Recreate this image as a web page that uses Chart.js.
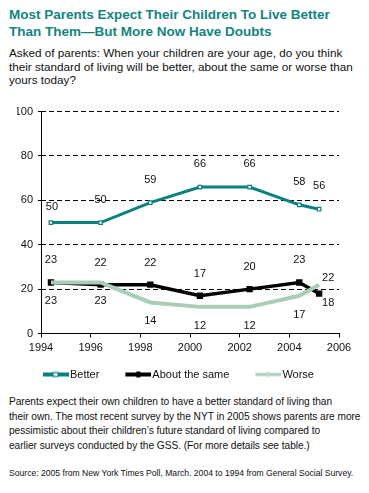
<!DOCTYPE html>
<html>
<head>
<meta charset="utf-8">
<script src="https://cdn.jsdelivr.net/npm/chart.js@4/dist/chart.umd.min.js"></script>
<style>
  html, body { margin: 0; padding: 0; background: #fff; }
  body { width: 369px; height: 493px; position: relative; overflow: hidden;
         font-family: "Liberation Sans", Arial, sans-serif; color: #111; }
  .title { position: absolute; left: 9px; top: 6px; font-weight: bold; font-size: 13.5px;
           line-height: 17px; color: #138481; white-space: nowrap; }
  .sub { position: absolute; left: 9px; top: 46px; font-size: 11.7px; line-height: 13.5px; white-space: nowrap; }
  .para { position: absolute; left: 9px; top: 395px; font-size: 10.2px; letter-spacing: -0.05px;
          line-height: 14.7px; white-space: nowrap; }
  .src { position: absolute; left: 9px; top: 467px; font-size: 8.6px; line-height: 12px; white-space: nowrap; }
  #wrap { position: absolute; left: 0; top: 100px; width: 369px; height: 290px; }
</style>
</head>
<body>
<div class="title">Most Parents Expect Their Children To Live Better<br>Than Them—But More Now Have Doubts</div>
<div class="sub">Asked of parents: When your children are your age, do you think<br>their standard of living will be better, about the same or worse than<br>yours today?</div>
<div id="wrap"><canvas id="chart"></canvas></div>
<div class="para">Parents expect their own children to have a better standard of living than<br>their own. The most recent survey by the NYT in 2005 shows parents are more<br>pessimistic about their children’s future standard of living compared to<br>earlier surveys conducted by the GSS. (For more details see table.)</div>
<div class="src">Source: 2005 from New York Times Poll, March. 2004 to 1994 from General Social Survey.</div>
<script>
/* ── Data (survey dates as fractional years: GSS mid-year, NYT March 2005) ── */
const surveyDates = [1994.4, 1996.4, 1998.4, 2000.4, 2002.4, 2004.4, 2005.2];
const better      = [50, 50, 59, 66, 66, 58, 56];
const aboutSame   = [23, 22, 22, 17, 20, 23, 18];
const worse       = [23, 23, 14, 12, 12, 17, 22];
const seriesNames = ['Better', 'About the same', 'Worse'];
const xTicks = [1994, 1996, 1998, 2000, 2002, 2004, 2006];
const yTicks = [0, 20, 40, 60, 80, 100];

const TEAL = '#0b8080';
const BLACK = '#000000';
const SAGE = '#a9cdb7';
const FONT = '"Liberation Sans", Arial, sans-serif';

function toPoints(values) {
  return values.map((v, i) => ({ x: surveyDates[i], y: v }));
}

/* small canvas used as legend marker: line with a marker in the middle */
function legendMarker(color, kind) {
  const c = document.createElement('canvas');
  c.width = 39; c.height = 10;
  const g = c.getContext('2d');
  const x0 = 13, x1 = 39, cy = 5;
  g.strokeStyle = color;
  g.lineWidth = kind === 'worse' ? 3 : 4;
  g.beginPath(); g.moveTo(x0, cy); g.lineTo(x1, cy); g.stroke();
  if (kind === 'better') {
    g.fillStyle = '#fff'; g.fillRect(x0 + 10, cy - 2, 5, 4);
    g.lineWidth = 1.2; g.strokeRect(x0 + 10, cy - 2, 5, 4);
  } else if (kind === 'same') {
    g.fillStyle = color; g.fillRect(x0 + 11, cy - 3, 4, 6);
  } else {
    g.fillStyle = '#c4dccd'; g.fillRect(x0 + 12, cy - 3, 2, 6);
  }
  return c;
}

/* value labels, positioned relative to each point */
const valueLabels = {
  id: 'valueLabels',
  afterDatasetsDraw(chart) {
    const ctx = chart.ctx;
    ctx.save();
    ctx.font = '11px ' + FONT;
    ctx.fillStyle = '#111';
    ctx.textAlign = 'center';
    ctx.textBaseline = 'middle';
    chart.data.datasets.forEach((ds, di) => {
      const meta = chart.getDatasetMeta(di);
      meta.data.forEach((pt, i) => {
        const off = ds.labelOffset(i);
        ctx.fillText(String(ds.data[i].y), pt.x + off[0], pt.y + off[1]);
      });
    });
    ctx.restore();
  }
};

const last = surveyDates.length - 1;

new Chart(document.getElementById('chart'), {
  type: 'line',
  data: {
    datasets: [
      {
        label: seriesNames[0],
        data: toPoints(better),
        borderColor: TEAL,
        borderWidth: 3,
        pointStyle: 'rect',
        pointRadius: 2.5,
        pointBackgroundColor: '#fff',
        pointBorderColor: TEAL,
        pointBorderWidth: 1.2,
        order: 1,
        labelOffset: i => (i === 0 ? [1, -16] : [0, -23])
      },
      {
        label: seriesNames[1],
        data: toPoints(aboutSame),
        borderColor: BLACK,
        borderWidth: 3.5,
        pointStyle: 'rect',
        pointRadius: 2,
        pointBackgroundColor: BLACK,
        pointBorderColor: BLACK,
        order: 2,
        labelOffset: i => (i === last ? [9, 9] : [0, -22])
      },
      {
        label: seriesNames[2],
        data: toPoints(worse),
        borderColor: SAGE,
        borderWidth: 4,
        pointRadius: 0,
        order: 0,
        labelOffset: i => (i === last ? [9, -7] : [0, 19])
      }
    ]
  },
  options: {
    responsive: true,
    maintainAspectRatio: false,
    animation: false,
    layout: { padding: { left: 17, right: 30, top: 9, bottom: 0 } },
    plugins: {
      tooltip: { enabled: false },
      legend: {
        position: 'bottom',
        align: 'start',
        labels: {
          usePointStyle: true,
          pointStyleWidth: 30,
          padding: 17.5,
          color: '#111',
          font: { family: FONT, size: 11 },
          generateLabels: function(chart) {
            const kinds = ['better', 'same', 'worse'];
            const colors = [TEAL, BLACK, SAGE];
            return seriesNames.map((name, i) => ({
              text: name,
              pointStyle: legendMarker(colors[i], kinds[i]),
              fillStyle: colors[i],
              strokeStyle: colors[i],
              lineWidth: 0,
              fontColor: '#111',
              datasetIndex: i
            }));
          }
        }
      }
    },
    scales: {
      x: {
        type: 'linear',
        min: 1994,
        max: 2006,
        afterBuildTicks: s => { s.ticks = xTicks.map(v => ({ value: v })); },
        afterFit: s => { s.height = 18; },
        /* only the 1994 gridline is drawn: it serves as the solid value axis */
        grid: {
          drawOnChartArea: true,
          drawTicks: true,
          tickLength: 4,
          color: ctx => (ctx.tick && ctx.tick.value === 1994 ? BLACK : 'rgba(0,0,0,0)'),
          tickColor: BLACK
        },
        border: { color: BLACK, width: 1 },
        ticks: {
          padding: 4,
          color: '#111',
          font: { family: FONT, size: 11 },
          callback: v => String(v)
        }
      },
      y: {
        min: 0,
        max: 100,
        afterBuildTicks: s => { s.ticks = yTicks.map(v => ({ value: v })); },
        afterFit: s => { s.width = 24; },
        grid: {
          color: ctx => (ctx.tick && ctx.tick.value === 0 ? 'rgba(0,0,0,0)' : BLACK),
          tickColor: BLACK,
          tickLength: 3,
          lineWidth: 1
        },
        border: { display: false, dash: [5, 3] },
        ticks: {
          padding: 5,
          color: '#111',
          font: { family: FONT, size: 11 },
          callback: v => String(v)
        }
      }
    }
  },
  plugins: [valueLabels]
});
</script>
</body>
</html>
